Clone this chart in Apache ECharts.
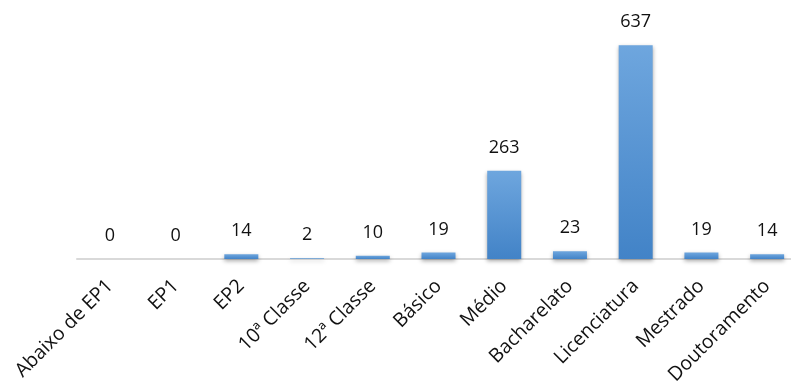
<!DOCTYPE html>
<html>
<head>
<meta charset="utf-8">
<script src="https://cdn.jsdelivr.net/npm/echarts@6/dist/echarts.min.js"></script>
<style>
  html, body { margin: 0; padding: 0; background: #fff; overflow: hidden; }
  #chart { width: 810px; height: 391px; }
</style>
</head>
<body>
<div id="chart"></div>
<script>
// Education levels and the number of people at each level
const categories = ['Abaixo de EP1', 'EP1', 'EP2', '10ª Classe', '12ª Classe', 'Básico',
  'Médio', 'Bacharelato', 'Licenciatura', 'Mestrado', 'Doutoramento'];
const counts = [0, 0, 14, 2, 10, 19, 263, 23, 637, 19, 14];

const fontFamily = '"Open Sans", "Noto Sans", sans-serif';
const chart = echarts.init(document.getElementById('chart'));

chart.setOption({
  animation: false,
  grid: { left: 77, top: 24, width: 723, height: 235 },
  xAxis: {
    type: 'category',
    data: categories,
    axisLine: { lineStyle: { color: '#d9d9d9', width: 2 } },
    axisTick: { show: false },
    axisLabel: {
      rotate: 45,
      interval: 0,
      margin: 24,
      fontSize: 19.5,
      fontFamily: fontFamily,
      color: '#111'
    }
  },
  yAxis: {
    type: 'value',
    min: 0,
    max: 700,
    show: false,
    splitLine: { show: false }
  },
  series: [{
    type: 'bar',
    data: counts,
    barWidth: 34,
    itemStyle: {
      color: new echarts.graphic.LinearGradient(0, 0, 0, 1, [
        { offset: 0, color: '#6ea6de' },
        { offset: 1, color: '#4283c7' }
      ]),
      shadowColor: 'rgba(0,0,0,0.35)',
      shadowBlur: 4,
      shadowOffsetY: 2
    },
    label: {
      show: true,
      position: 'top',
      distance: 14,
      fontSize: 18,
      fontFamily: fontFamily,
      color: '#111'
    }
  }]
});
</script>
</body>
</html>
